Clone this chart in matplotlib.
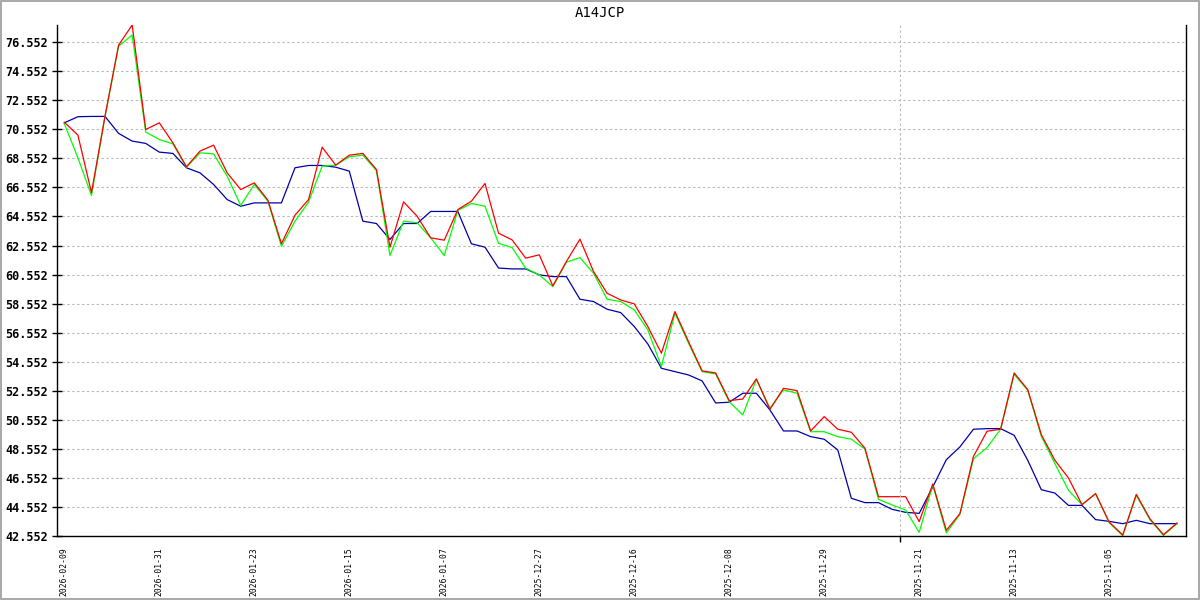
import numpy as np
import matplotlib
matplotlib.use("Agg")
import matplotlib.pyplot as plt
from matplotlib.patches import Rectangle

title = "A14JCP"

# newest date first, one value per session
red = [
    71.05, 70.16, 66.20, 71.47, 76.37, 77.75, 70.55, 71.01, 69.63, 67.98,
    69.06, 69.47, 67.56, 66.41, 66.87, 65.68, 62.67, 64.64, 65.72, 69.33,
    68.09, 68.78, 68.90, 67.79, 62.44, 65.56, 64.57, 63.08, 62.92, 65.03,
    65.61, 66.83, 63.40, 62.94, 61.68, 61.91, 59.77, 61.45, 62.99, 60.76,
    59.26, 58.80, 58.53, 56.97, 55.13, 58.00, 55.93, 53.91, 53.77, 51.86,
    51.97, 53.36, 51.26, 52.71, 52.55, 49.77, 50.76, 49.89, 49.68, 48.58,
    45.24, 45.24, 45.24, 43.52, 46.12, 42.92, 44.07, 48.02, 49.75, 49.89,
    53.77, 52.62, 49.52, 47.75, 46.53, 44.69, 45.45, 43.49, 42.60, 45.40,
    43.72, 42.62, 43.43,
]

green = [
    70.95, 68.60, 66.00, 71.47, 76.30, 77.06, 70.37, 69.86, 69.56, 67.95,
    68.94, 68.87, 67.33, 65.31, 66.76, 65.61, 62.50, 64.23, 65.54, 68.02,
    68.09, 68.67, 68.78, 67.72, 61.86, 64.23, 64.12, 63.08, 61.86, 64.97,
    65.45, 65.26, 62.70, 62.41, 60.99, 60.53, 59.72, 61.40, 61.72, 60.64,
    58.85, 58.69, 58.12, 56.74, 54.21, 57.89, 55.82, 53.86, 53.70, 51.79,
    50.87, 53.33, 51.33, 52.60, 52.37, 49.72, 49.72, 49.38, 49.20, 48.53,
    45.06, 44.67, 44.32, 42.78, 46.05, 42.74, 44.02, 47.86, 48.62, 49.89,
    53.68, 52.57, 49.40, 47.52, 45.68, 44.69, 45.45, 43.45, 42.552, 45.34,
    43.66, 42.57, 43.38,
]

blue = [
    71.01, 71.43, 71.45, 71.45, 70.28, 69.75, 69.59, 68.99, 68.90, 67.91,
    67.56, 66.76, 65.72, 65.26, 65.49, 65.49, 65.49, 67.91, 68.07, 68.07,
    67.95, 67.68, 64.23, 64.07, 62.97, 64.07, 64.07, 64.90, 64.90, 64.90,
    62.67, 62.44, 61.00, 60.94, 60.94, 60.53, 60.41, 60.41, 58.85, 58.69,
    58.16, 57.93, 56.97, 55.77, 54.09, 53.86, 53.63, 53.22, 51.70, 51.75,
    52.37, 52.37, 51.22, 49.77, 49.77, 49.38, 49.20, 48.46, 45.13, 44.83,
    44.83, 44.37, 44.16, 44.09, 45.91, 47.79, 48.67, 49.89, 49.93, 49.93,
    49.47, 47.75, 45.72, 45.49, 44.64, 44.64, 43.66, 43.54, 43.38, 43.61,
    43.38, 43.38, 43.38,
]

date_labels = [
    "2026-02-09", "2026-01-31", "2026-01-23", "2026-01-15",
    "2026-01-07", "2025-12-27", "2025-12-16", "2025-12-08",
    "2025-11-29", "2025-11-21", "2025-11-13", "2025-11-05",
]
label_step = 7
marker_pos = 61.6


def main():
    x = np.arange(len(red))
    lo = min(min(red), min(green), min(blue))
    hi = max(max(red), max(green), max(blue))

    fig = plt.figure(figsize=(12, 6), dpi=100)
    ax = fig.add_axes([0.0475, 0.1072, 0.9408, 0.8511])

    ax.plot(x, blue, color="#0000a8", lw=0.9)
    ax.plot(x, green, color="#00ff00", lw=0.9)
    ax.plot(x, red, color="#ff0000", lw=0.9)

    ax.set_xlim(-0.54, 82.66)
    ax.set_ylim(lo, hi)

    yt = np.arange(lo, hi, 2.0)
    ax.set_yticks(yt)
    ax.set_yticklabels(["%.3f" % v for v in yt], family="DejaVu Sans Mono",
                       fontweight="bold", fontsize=8.5)
    ax.tick_params(axis="y", direction="inout", length=6.5, width=1, pad=3)
    ax.yaxis.grid(True, color="#bbbbbb", linestyle=(0, (2.2, 2.2)), lw=0.8)

    ax.set_xticks(np.arange(len(date_labels)) * label_step)
    ax.set_xticklabels(date_labels, rotation=90, family="DejaVu Sans Mono",
                       fontsize=5.8, va="top")
    ax.tick_params(axis="x", length=0, pad=8)
    ax.set_xticks([marker_pos], minor=True)
    ax.tick_params(axis="x", which="minor", direction="out", length=4,
                   width=1, color="black")
    ax.axvline(marker_pos, color="#bbbbbb", linestyle=(0, (2.2, 2.2)), lw=0.8)

    for side in ["left", "bottom", "right"]:
        ax.spines[side].set_color("black")
        ax.spines[side].set_linewidth(1)
    ax.spines["top"].set_visible(False)

    fig.text(0.5, 0.978, title, ha="center", va="center",
             family="DejaVu Sans Mono", fontsize=10)
    fig.patches.append(Rectangle((0.0005, 0.001), 0.999, 0.998,
                                 transform=fig.transFigure, fill=False,
                                 edgecolor="#999999", lw=1.2))

    fig.savefig("out.png", dpi=100)


if __name__ == "__main__":
    main()
